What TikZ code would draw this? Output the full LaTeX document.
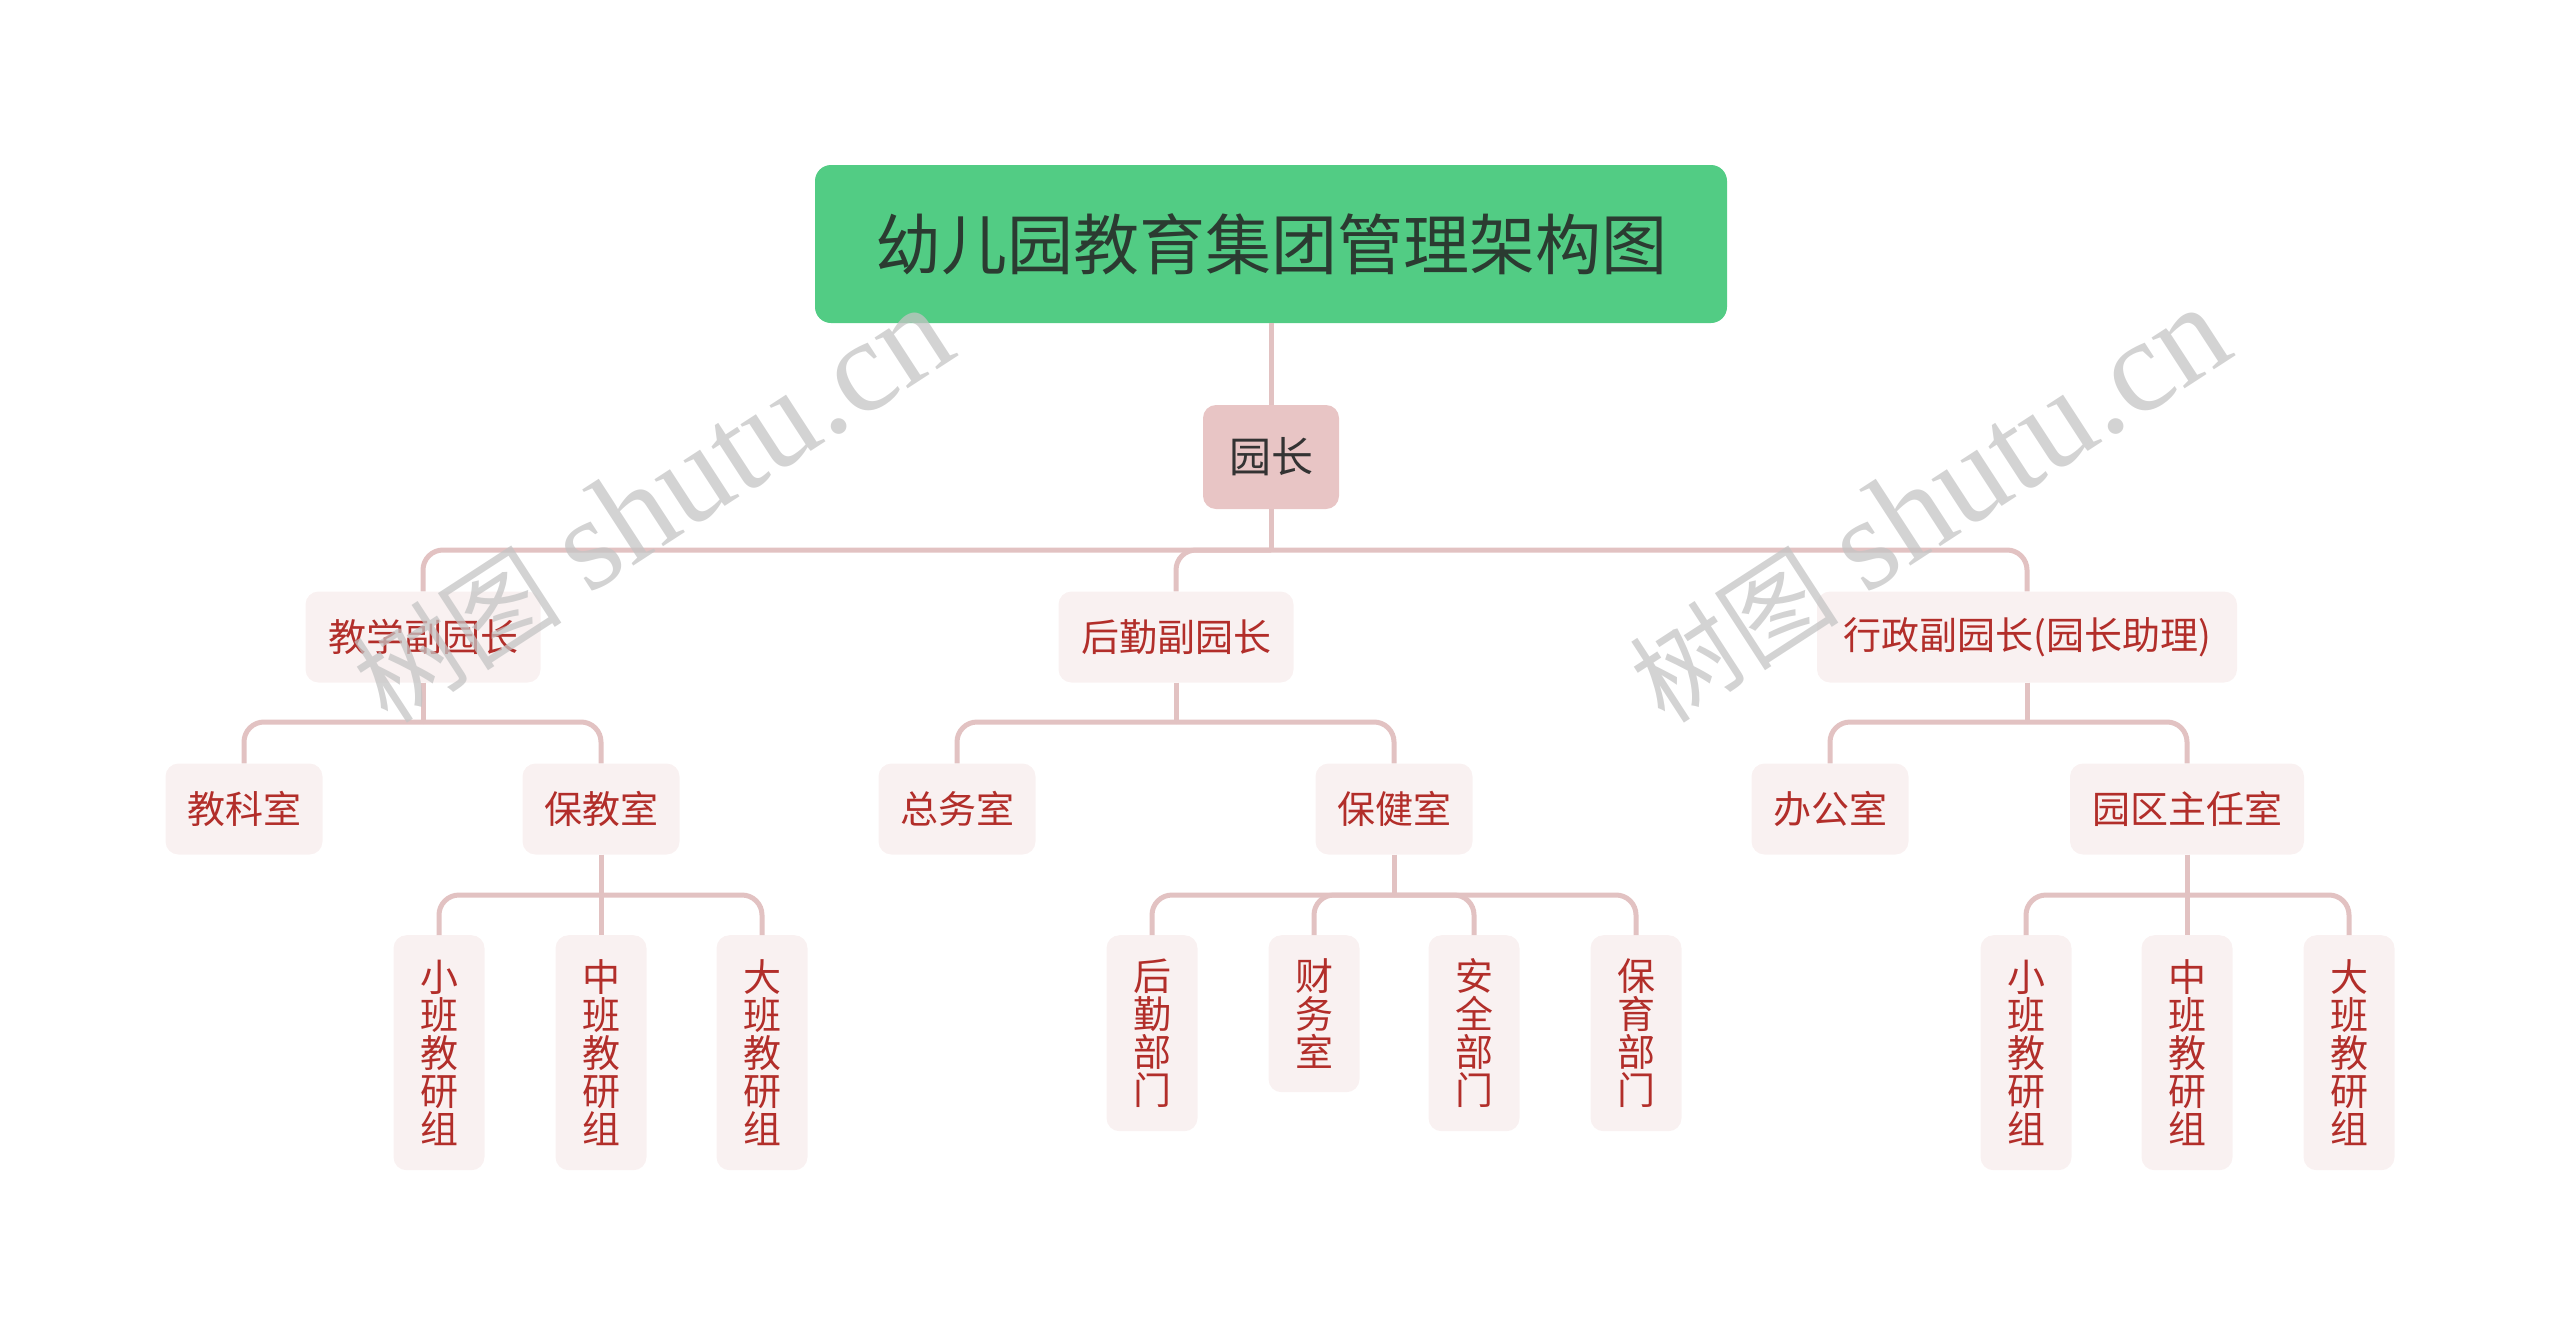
\documentclass[tikz,border=0pt]{standalone}
\usepackage{fontspec}
\newfontfamily\cjk{Noto Sans CJK SC}
\newfontfamily\wmlatin{Liberation Serif}
\definecolor{titlefill}{HTML}{52CC84}
\definecolor{titletext}{HTML}{2B3B31}
\definecolor{headfill}{HTML}{E8C5C5}
\definecolor{headtext}{HTML}{333333}
\definecolor{boxfill}{HTML}{F9F1F1}
\definecolor{boxtext}{HTML}{B22E2A}
\definecolor{linecol}{HTML}{E2C2C2}
\definecolor{wmcol}{HTML}{C4C4C4}
\newcommand{\wmtext}{{\cjk\fontsize{105}{105}\selectfont 树图}\hspace{28pt}{\wmlatin\fontsize{132}{132}\selectfont shutu.cn}}
\tikzset{
  titlebox/.style={rounded corners=16pt, fill=titlefill, text=titletext, inner sep=0pt,
    font=\cjk\fontsize{66}{66}\selectfont, minimum width=912pt, minimum height=158pt},
  headbox/.style={rounded corners=13pt, fill=headfill, text=headtext, inner sep=0pt,
    font=\cjk\fontsize{42}{42}\selectfont, minimum width=136pt, minimum height=104pt},
  hbox/.style={rounded corners=13pt, fill=boxfill, text=boxtext, inner sep=0pt,
    font=\cjk\fontsize{38}{38}\selectfont, minimum height=91pt},
  vbox/.style={rounded corners=13pt, fill=boxfill, text=boxtext, inner sep=0pt, align=center,
    font=\cjk\fontsize{38}{38}\selectfont, minimum width=91pt, anchor=north},
  conn/.style={draw=linecol, line width=5pt},
  elbow/.style={conn, rounded corners=20pt},
  wm/.style={rotate=33, text=wmcol, opacity=0.75, inner sep=0pt}
}
\begin{document}
\begin{tikzpicture}[x=1pt,y=-1pt]
\useasboundingbox (0,0) rectangle (2560,1339);

% nodes
\node[titlebox] (root) at (1271,244) {幼儿园教育集团管理架构图};
\node[headbox] (yz) at (1271,457) {园长};

\node[hbox, minimum width=235pt] (jx) at (423,637) {教学副园长};
\node[hbox, minimum width=235pt] (hq) at (1176,637) {后勤副园长};
\node[hbox, minimum width=420pt] (xz) at (2027,637) {行政副园长(园长助理)};

\node[hbox, minimum width=157pt] (jks) at (244,809) {教科室};
\node[hbox, minimum width=157pt] (bjs) at (601,809) {保教室};
\node[hbox, minimum width=157pt] (zws) at (957,809) {总务室};
\node[hbox, minimum width=157pt] (bjian) at (1394,809) {保健室};
\node[hbox, minimum width=157pt] (bgs) at (1830,809) {办公室};
\node[hbox, minimum width=234pt] (yq) at (2187,809) {园区主任室};

\node[vbox, minimum height=235pt] (xb1) at (439,935) {小\\班\\教\\研\\组};
\node[vbox, minimum height=235pt] (zb1) at (601,935) {中\\班\\教\\研\\组};
\node[vbox, minimum height=235pt] (db1) at (762,935) {大\\班\\教\\研\\组};

\node[vbox, minimum height=196pt] (hqbm) at (1152,935) {后\\勤\\部\\门};
\node[vbox, minimum height=157pt] (cws) at (1314,935) {财\\务\\室};
\node[vbox, minimum height=196pt] (aqbm) at (1474,935) {安\\全\\部\\门};
\node[vbox, minimum height=196pt] (bybm) at (1636,935) {保\\育\\部\\门};

\node[vbox, minimum height=235pt] (xb2) at (2026,935) {小\\班\\教\\研\\组};
\node[vbox, minimum height=235pt] (zb2) at (2187,935) {中\\班\\教\\研\\组};
\node[vbox, minimum height=235pt] (db2) at (2349,935) {大\\班\\教\\研\\组};

% bus coordinates
\coordinate (b1) at (1271,550);
\coordinate (b2) at (423,722);
\coordinate (b3) at (1176,722);
\coordinate (b4) at (2027,722);
\coordinate (b5) at (601,895);
\coordinate (b6) at (1394,895);
\coordinate (b7) at (2187,895);

% connectors
\draw[conn] (root.south) -- (yz.north);

\draw[conn] (yz.south) -- (b1);
\draw[elbow] (b1) -| (jx.north);
\draw[elbow] (b1) -| (hq.north);
\draw[elbow] (b1) -| (xz.north);

\draw[conn] (jx.south) -- (b2);
\draw[elbow] (b2) -| (jks.north);
\draw[elbow] (b2) -| (bjs.north);

\draw[conn] (hq.south) -- (b3);
\draw[elbow] (b3) -| (zws.north);
\draw[elbow] (b3) -| (bjian.north);

\draw[conn] (xz.south) -- (b4);
\draw[elbow] (b4) -| (bgs.north);
\draw[elbow] (b4) -| (yq.north);

\draw[conn] (bjs.south) -- (zb1.north);
\draw[elbow] (b5) -| (xb1.north);
\draw[elbow] (b5) -| (db1.north);

\draw[conn] (bjian.south) -- (b6);
\draw[elbow] (b6) -| (hqbm.north);
\draw[elbow] (b6) -| (cws.north);
\draw[elbow] (b6) -| (aqbm.north);
\draw[elbow] (b6) -| (bybm.north);

\draw[conn] (yq.south) -- (zb2.north);
\draw[elbow] (b7) -| (xb2.north);
\draw[elbow] (b7) -| (db2.north);

% watermarks
\node[wm] (wm1) at (652,505) {\wmtext};
\node[wm] (wm2) at (1929,505) {\wmtext};
\end{tikzpicture}
\end{document}
